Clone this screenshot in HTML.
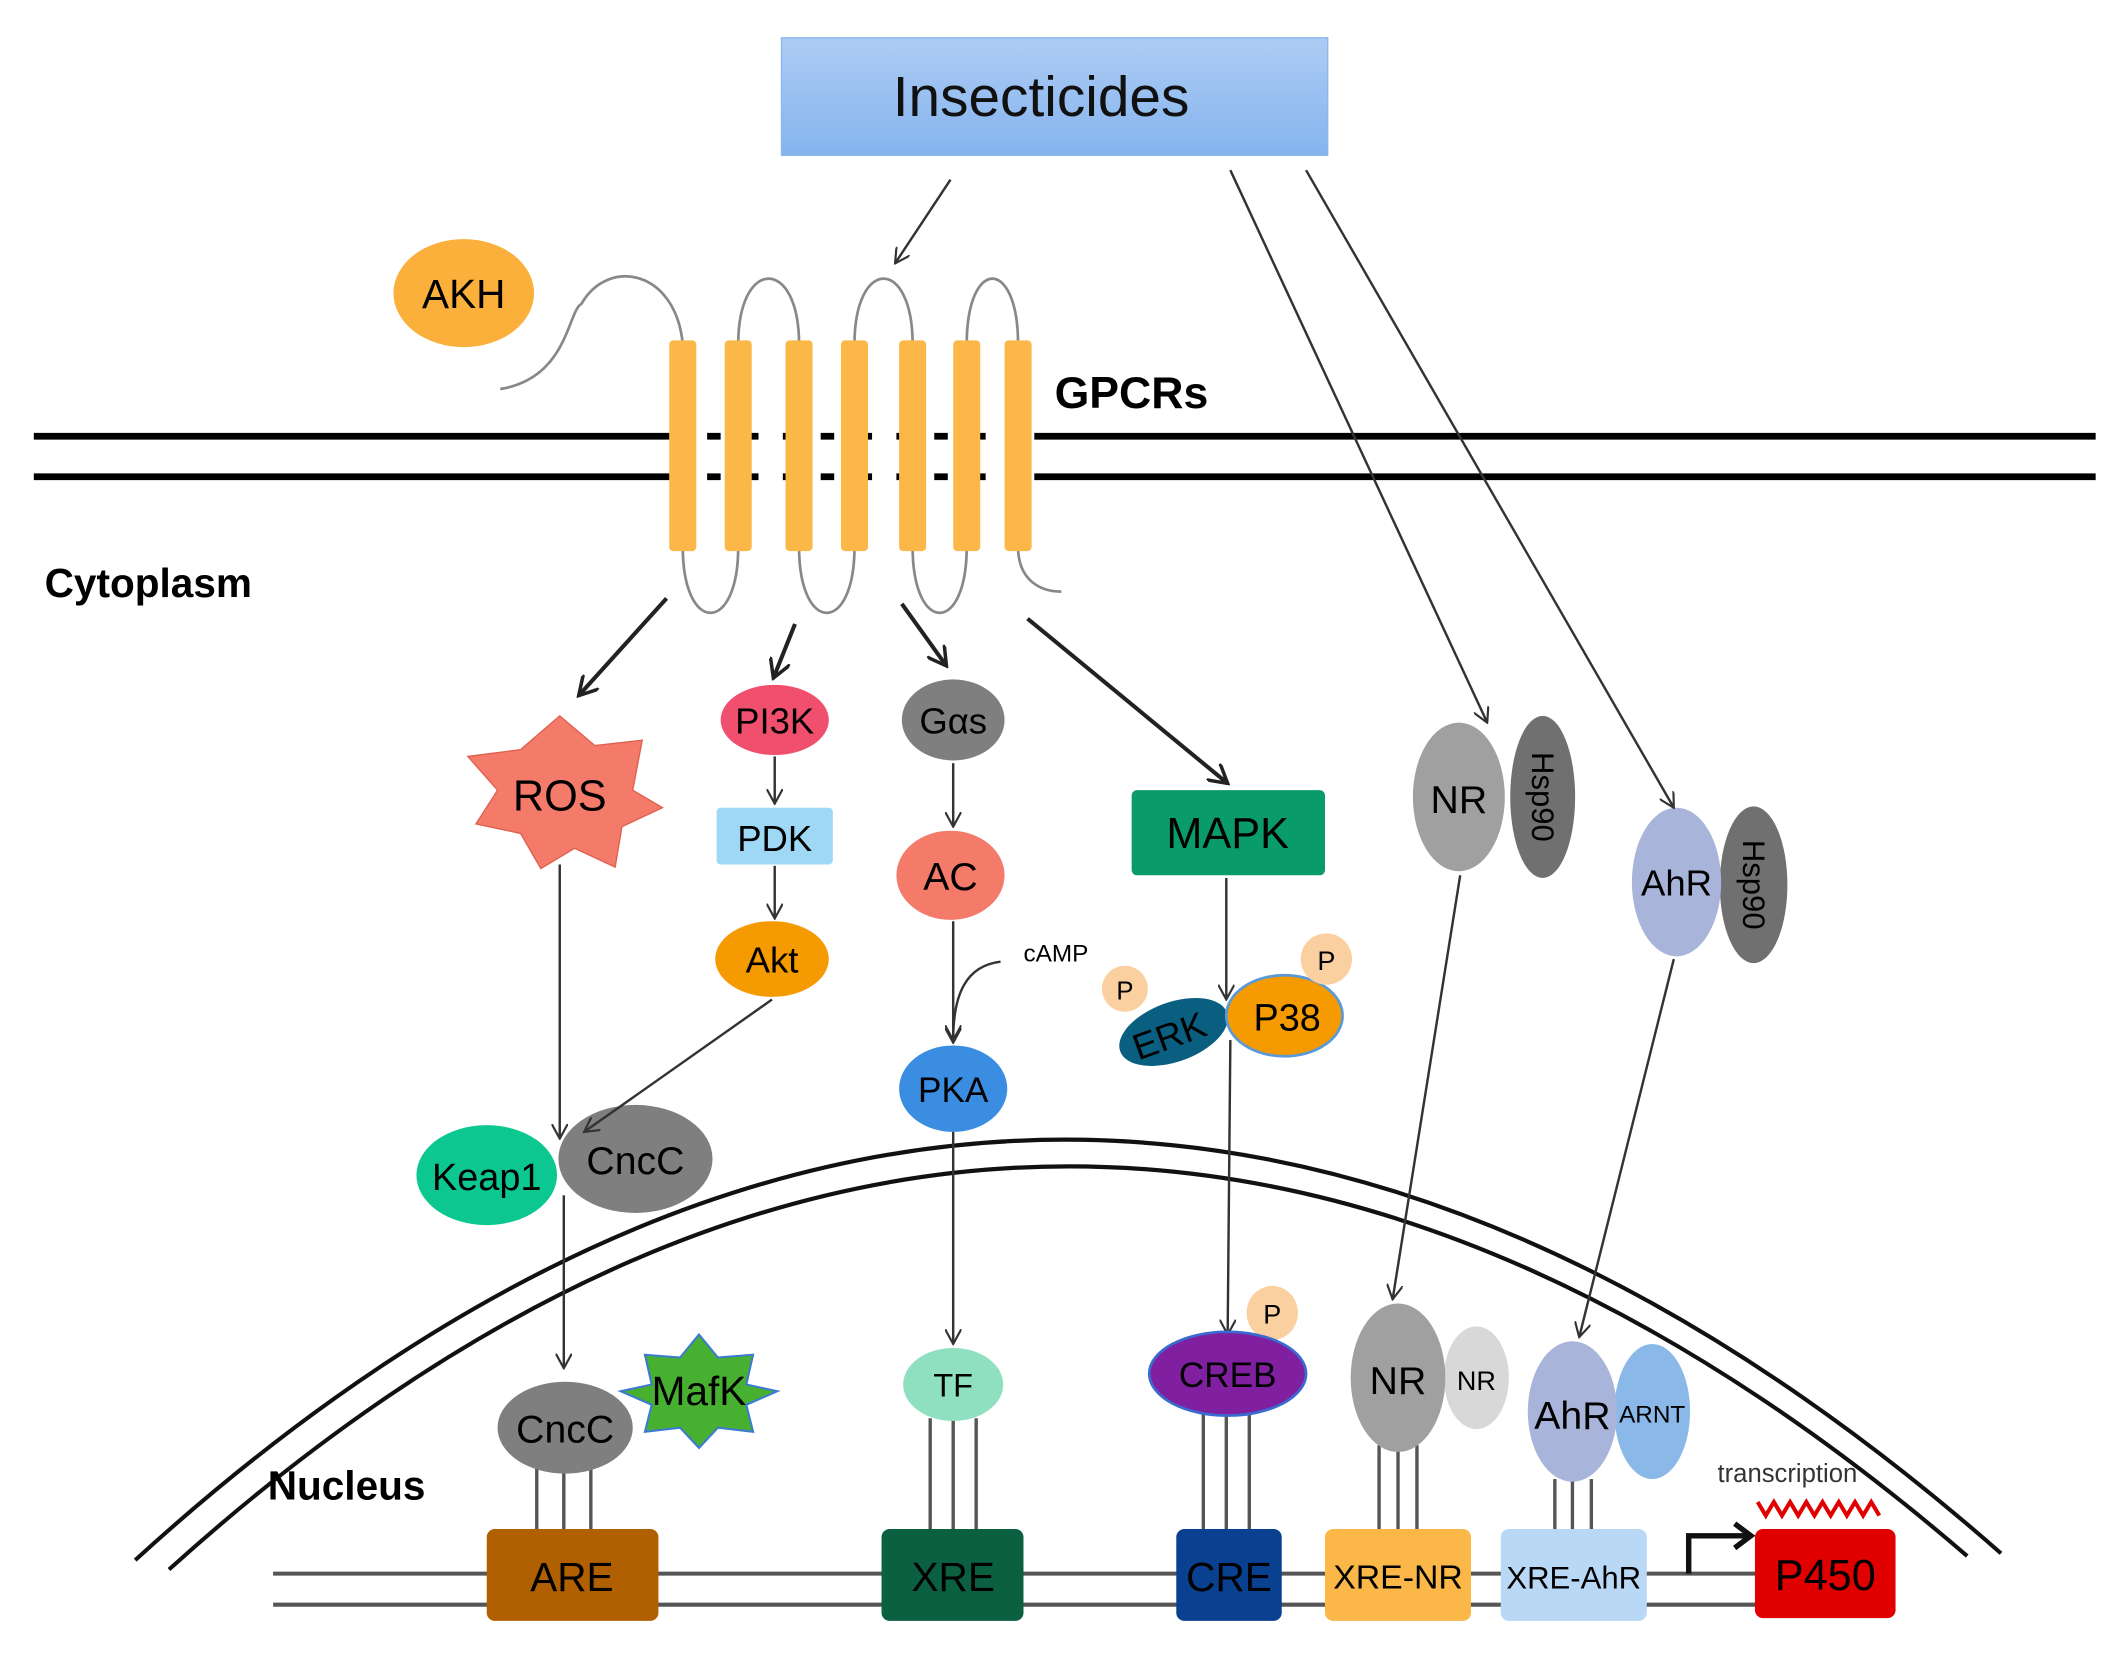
<!DOCTYPE html>
<html><head><meta charset="utf-8"><style>html,body{margin:0;padding:0;background:#fff}svg{display:block}text{font-family:"Liberation Sans",sans-serif}</style></head>
<body>
<svg width="2120" height="1656" viewBox="0 0 1568 1226" preserveAspectRatio="none" xmlns="http://www.w3.org/2000/svg">
<defs>
<marker id="a" viewBox="0 0 12 12" refX="11" refY="6" markerWidth="12" markerHeight="12" markerUnits="userSpaceOnUse" orient="auto"><path d="M0,0 L11,6 L0,12" fill="none" stroke="#333" stroke-width="1.6"/></marker>
<marker id="b" viewBox="0 0 16 16" refX="14" refY="8" markerWidth="16" markerHeight="16" markerUnits="userSpaceOnUse" orient="auto"><path d="M0,0 L14,8 L0,16" fill="none" stroke="#222" stroke-width="2.6"/></marker>
<linearGradient id="ins" x1="0" y1="0" x2="0" y2="1"><stop offset="0" stop-color="#aeccf4"/><stop offset="1" stop-color="#84b4ee"/></linearGradient>
</defs>
<rect x="578" y="28" width="404" height="87" fill="url(#ins)" stroke="#8ab8ee"/>
<text x="770" y="86" font-size="42" text-anchor="middle" fill="#111">Insecticides</text>
<ellipse cx="343" cy="217" rx="52" ry="40" fill="#fbb03b"/>
<text x="343" y="228" font-size="30" text-anchor="middle">AKH</text>
<g stroke="#000" stroke-width="5">
<line x1="25" y1="323" x2="495" y2="323"/><line x1="25" y1="353" x2="495" y2="353"/>
<line x1="765" y1="323" x2="1550" y2="323"/><line x1="765" y1="353" x2="1550" y2="353"/>
<line x1="495" y1="323" x2="765" y2="323" stroke-dasharray="10,18"/>
<line x1="495" y1="353" x2="765" y2="353" stroke-dasharray="10,18"/>
</g>
<g fill="none" stroke="#888" stroke-width="2">
<path d="M370,288 C420,280 420,230 430,225 C450,190 500,200 505,255"/>
<path d="M546,255 C546,190 591,190 591,255"/>
<path d="M632,255 C632,190 675,190 675,255"/>
<path d="M715,255 C715,190 753,190 753,255"/>
<path d="M505,405 C505,470 546,470 546,405"/>
<path d="M591,405 C591,470 632,470 632,405"/>
<path d="M675,405 C675,470 715,470 715,405"/>
<path d="M753,405 C753,430 770,438 785,438"/>
</g>
<g fill="#fbb848">
<rect x="495" y="252" width="20" height="156" rx="3"/><rect x="536" y="252" width="20" height="156" rx="3"/>
<rect x="581" y="252" width="20" height="156" rx="3"/><rect x="622" y="252" width="20" height="156" rx="3"/>
<rect x="665" y="252" width="20" height="156" rx="3"/><rect x="705" y="252" width="20" height="156" rx="3"/>
<rect x="743" y="252" width="20" height="156" rx="3"/>
</g>
<text x="780" y="302" font-size="33" font-weight="bold">GPCRs</text>
<text x="33" y="442" font-size="30" font-weight="bold">Cytoplasm</text>
<path d="M100,1155 Q780,535 1480,1150" fill="none" stroke="#111" stroke-width="3"/>
<path d="M125,1162 Q780,570 1455,1152" fill="none" stroke="#111" stroke-width="3"/>
<text x="198" y="1110" font-size="30" font-weight="bold">Nucleus</text>
<g stroke="#222" stroke-width="3" marker-end="url(#b)">
<line x1="493" y1="443" x2="428" y2="515"/><line x1="588" y1="462" x2="572" y2="502"/>
<line x1="667" y1="447" x2="700" y2="493"/><line x1="760" y1="458" x2="908" y2="580"/>
</g>
<polygon points="414,530 440,552 475,548 468,585 490,598 460,612 455,642 425,628 400,643 385,617 352,610 368,585 346,560 385,555" fill="#f47a6a" stroke="#e06050"/>
<text x="414" y="600" font-size="32" text-anchor="middle">ROS</text>
<ellipse cx="573" cy="533" rx="40" ry="26" fill="#f0506e"/><text x="573" y="543" font-size="27" text-anchor="middle">PI3K</text>
<rect x="530" y="598" width="86" height="42" rx="3" fill="#9fd8f5"/><text x="573" y="630" font-size="27" text-anchor="middle">PDK</text>
<ellipse cx="571" cy="710" rx="42" ry="28" fill="#f59a00"/><text x="571" y="720" font-size="27" text-anchor="middle">Akt</text>
<ellipse cx="705" cy="533" rx="38" ry="30" fill="#7f7f7f"/><text x="705" y="543" font-size="27" text-anchor="middle">Gαs</text>
<ellipse cx="703" cy="648" rx="40" ry="33" fill="#f47a6a"/><text x="703" y="659" font-size="29" text-anchor="middle">AC</text>
<text x="757" y="712" font-size="18">cAMP</text>
<ellipse cx="705" cy="806" rx="40" ry="32" fill="#3a8de0"/><text x="705" y="816" font-size="26" text-anchor="middle">PKA</text>
<rect x="837" y="585" width="143" height="63" rx="4" fill="#0a9b6a"/><text x="908" y="628" font-size="32" text-anchor="middle">MAPK</text>
<ellipse cx="868" cy="764" rx="42" ry="22" fill="#0a5f80" transform="rotate(-20 868 764)"/><text x="866" y="776" font-size="27" text-anchor="middle" transform="rotate(-20 866 770)">ERK</text>
<ellipse cx="950" cy="752" rx="43" ry="30" fill="#f59a00" stroke="#5a9ad8" stroke-width="2"/><text x="952" y="763" font-size="28" text-anchor="middle">P38</text>
<circle cx="832" cy="732" r="17" fill="#fbd0a0"/><text x="832" y="740" font-size="19" text-anchor="middle">P</text>
<circle cx="981" cy="710" r="19" fill="#fbd0a0"/><text x="981" y="718" font-size="20" text-anchor="middle">P</text>
<ellipse cx="1141" cy="590" rx="24" ry="60" fill="#707070"/><text x="1141" y="590" font-size="23" text-anchor="middle" transform="rotate(90 1141 590)" dy="8">Hsp90</text>
<ellipse cx="1079" cy="590" rx="34" ry="55" fill="#a0a0a0"/><text x="1079" y="602" font-size="29" text-anchor="middle">NR</text>
<ellipse cx="1297" cy="655" rx="25" ry="58" fill="#707070"/><text x="1297" y="655" font-size="23" text-anchor="middle" transform="rotate(90 1297 655)" dy="8">Hsp90</text>
<ellipse cx="1240" cy="653" rx="33" ry="55" fill="#a8b4da"/><text x="1240" y="663" font-size="27" text-anchor="middle">AhR</text>
<ellipse cx="470" cy="858" rx="57" ry="40" fill="#7f7f7f"/><text x="470" y="869" font-size="29" text-anchor="middle">CncC</text>
<ellipse cx="360" cy="870" rx="52" ry="37" fill="#0cc890"/><text x="360" y="881" font-size="28" text-anchor="middle">Keap1</text>
<g stroke="#333" stroke-width="1.8" fill="none" marker-end="url(#a)">
<line x1="703" y1="133" x2="662" y2="195"/>
<line x1="910" y1="126" x2="1100" y2="535"/><line x1="966" y1="126" x2="1238" y2="598"/>
<line x1="1080" y1="648" x2="1030" y2="962"/><line x1="1238" y1="710" x2="1168" y2="990"/>
<line x1="571" y1="740" x2="432" y2="838"/><line x1="414" y1="640" x2="414" y2="843"/>
<line x1="417" y1="885" x2="417" y2="1013"/>
<line x1="573" y1="560" x2="573" y2="595"/><line x1="573" y1="641" x2="573" y2="680"/>
<line x1="705" y1="565" x2="705" y2="612"/><line x1="705" y1="682" x2="705" y2="772"/>
<path d="M740,712 C715,715 705,735 705,770"/>
<line x1="705" y1="838" x2="705" y2="995"/>
<line x1="907" y1="650" x2="907" y2="740"/><line x1="910" y1="770" x2="908" y2="988"/>
</g>
<g stroke="#555" stroke-width="3"><line x1="202" y1="1165" x2="1300" y2="1165"/><line x1="202" y1="1188" x2="1300" y2="1188"/></g>
<g stroke="#555" stroke-width="2.5">
<line x1="397" y1="1085" x2="397" y2="1132"/><line x1="417" y1="1085" x2="417" y2="1132"/><line x1="437" y1="1085" x2="437" y2="1132"/>
<line x1="688" y1="1050" x2="688" y2="1132"/><line x1="705" y1="1050" x2="705" y2="1132"/><line x1="722" y1="1050" x2="722" y2="1132"/>
<line x1="890" y1="1045" x2="890" y2="1132"/><line x1="907" y1="1045" x2="907" y2="1132"/><line x1="924" y1="1045" x2="924" y2="1132"/>
<line x1="1020" y1="1070" x2="1020" y2="1132"/><line x1="1034" y1="1070" x2="1034" y2="1132"/><line x1="1048" y1="1070" x2="1048" y2="1132"/>
<line x1="1150" y1="1095" x2="1150" y2="1132"/><line x1="1163" y1="1095" x2="1163" y2="1132"/><line x1="1177" y1="1095" x2="1177" y2="1132"/>
</g>
<rect x="360" y="1132" width="127" height="68" rx="6" fill="#b06000"/><text x="423" y="1178" font-size="30" text-anchor="middle">ARE</text>
<rect x="652" y="1132" width="105" height="68" rx="6" fill="#0a6040"/><text x="705" y="1178" font-size="30" text-anchor="middle">XRE</text>
<rect x="870" y="1132" width="78" height="68" rx="6" fill="#0a4090"/><text x="909" y="1178" font-size="30" text-anchor="middle">CRE</text>
<rect x="980" y="1132" width="108" height="68" rx="6" fill="#fbb848"/><text x="1034" y="1176" font-size="25" text-anchor="middle">XRE-NR</text>
<rect x="1110" y="1132" width="108" height="68" rx="6" fill="#b8d8f5"/><text x="1164" y="1176" font-size="23" text-anchor="middle">XRE-AhR</text>
<rect x="1298" y="1132" width="104" height="66" rx="6" fill="#e00000"/><text x="1350" y="1177" font-size="32" text-anchor="middle">P450</text>
<polygon points="517,988 531,1005 557,1003 552,1025 575,1030 552,1040 557,1060 531,1057 517,1072 503,1057 477,1060 482,1040 459,1030 482,1025 477,1003 503,1005" fill="#48b030" stroke="#3a7ad0" stroke-width="1.5"/>
<ellipse cx="418" cy="1057" rx="50" ry="34" fill="#7f7f7f"/><text x="418" y="1068" font-size="29" text-anchor="middle">CncC</text>
<text x="517" y="1040" font-size="30" text-anchor="middle">MafK</text>
<ellipse cx="705" cy="1025" rx="37" ry="27" fill="#8fe0c0"/><text x="705" y="1034" font-size="24" text-anchor="middle">TF</text>
<ellipse cx="941" cy="972" rx="19" ry="20" fill="#fbd0a0"/><text x="941" y="980" font-size="20" text-anchor="middle">P</text>
<ellipse cx="908" cy="1017" rx="58" ry="31" fill="#8020a0" stroke="#3a6ad0" stroke-width="2"/><text x="908" y="1027" font-size="26" text-anchor="middle">CREB</text>
<ellipse cx="1092" cy="1020" rx="24" ry="38" fill="#d8d8d8"/><text x="1092" y="1029" font-size="20" text-anchor="middle">NR</text>
<ellipse cx="1034" cy="1020" rx="35" ry="55" fill="#a0a0a0"/><text x="1034" y="1032" font-size="29" text-anchor="middle">NR</text>
<ellipse cx="1222" cy="1045" rx="28" ry="50" fill="#8ab8e8"/>
<ellipse cx="1163" cy="1045" rx="33" ry="52" fill="#a8b4da"/><text x="1163" y="1058" font-size="29" text-anchor="middle">AhR</text>
<text x="1222" y="1053" font-size="18" text-anchor="middle">ARNT</text>
<text x="1322" y="1097" font-size="19" text-anchor="middle" fill="#333">transcription</text>
<path d="M1249,1165 V1137 H1292" fill="none" stroke="#111" stroke-width="4"/>
<path d="M1283,1128 L1295,1137 L1283,1146" fill="none" stroke="#111" stroke-width="4"/>
<path d="M1300,1112 l6,10 l6,-10 l6,10 l6,-10 l6,10 l6,-10 l6,10 l6,-10 l6,10 l6,-10 l6,10 l6,-10 l6,10 l6,-10 l6,10" fill="none" stroke="#e00000" stroke-width="3"/>
</svg>
</body></html>
